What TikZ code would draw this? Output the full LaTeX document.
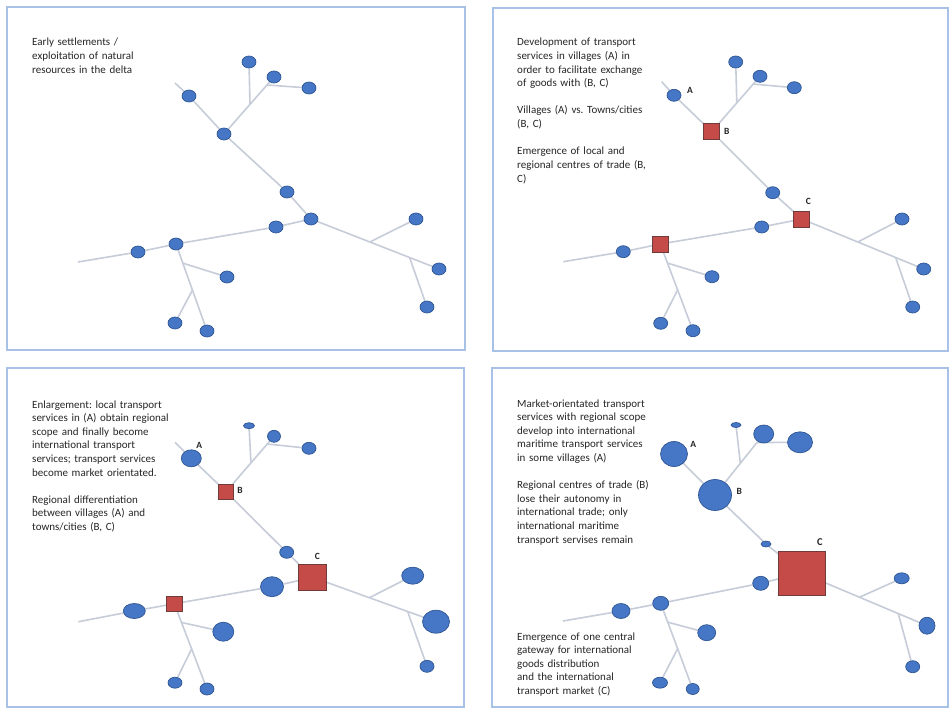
\documentclass[tikz,border=0pt]{standalone}
\usepackage{fontspec}
\setmainfont{Carlito}
\usetikzlibrary{shapes.geometric,calc,backgrounds}
\definecolor{framec}{HTML}{A7C2E6}
\definecolor{roadc}{HTML}{C6CDD9}
\definecolor{dotfill}{HTML}{4677C6}
\definecolor{dotline}{HTML}{2F5592}
\definecolor{sqfill}{HTML}{C44B48}
\definecolor{sqline}{HTML}{6E3A3A}
\definecolor{txtc}{HTML}{262626}
\frenchspacing
\newcommand{\roadnet}[1]{%
  \begin{scope}[on background layer]
  \draw[road] (#1s1) -- (#1nA) -- (#1nB) -- (#1n2);
  \coordinate (#1j1) at ($(#1nB)!0.52!(#1n2)$);
  \coordinate (#1j2) at ($(#1nB)!0.86!(#1n2)$);
  \draw[road] (#1n1) -- (#1j1);
  \draw[road] (#1j2) -- (#1n3);
  \draw[road] (#1nB) -- (#1n4) -- (#1nC);
  \draw[road] (#1nC) -- (#1n5) -- (#1nD) -- (#1n6) -- (#1s2);
  \draw[road] (#1nD) -- (#1n9);
  \coordinate (#1j3) at ($(#1nD)!0.22!(#1n9)$);
  \coordinate (#1j4) at ($(#1nD)!0.53!(#1n9)$);
  \draw[road] (#1j3) -- (#1n7);
  \draw[road] (#1j4) -- (#1n8);
  \draw[road] (#1nC) -- (#1n11);
  \coordinate (#1j5) at ($(#1nC)!0.46!(#1n11)$);
  \coordinate (#1j6) at ($(#1nC)!0.77!(#1n11)$);
  \draw[road] (#1j5) -- (#1n10);
  \draw[road] (#1j6) -- (#1n12);
  \end{scope}}
\begin{document}
\begin{tikzpicture}[x=1pt,y=-1pt,
  dot/.style={ellipse,draw=dotline,fill=dotfill,line width=0.7pt,inner sep=0pt},
  sq/.style={rectangle,draw=sqline,fill=sqfill,line width=0.8pt,inner sep=0pt},
  road/.style={draw=roadc,line width=1.6pt},
  framebox/.style={draw=framec,line width=1.4pt},
  desc/.style={anchor=base west,inner sep=0pt,text width=200pt,align=left,
    font=\fontsize{11}{13.6}\selectfont,text=txtc},
  lab/.style={inner sep=0pt,font=\fontsize{9.5}{10}\selectfont\bfseries,text=txtc}]
\begin{scope}[on background layer]
\fill[white] (0,0) rectangle (950,709);
\end{scope}
\useasboundingbox (0,0) rectangle (950,709);

% ---------------- Panel 1 ----------------
\draw[framebox] (7,7) rectangle (465,350);
\node[desc] (t1) at (32,46) {Early settlements /\\exploitation of natural\\resources in the delta};
\begin{scope}[every node/.append style={dot,minimum width=14pt,minimum height=12pt}]
\node (a-n1) at (249,62) {};
\node (a-n2) at (274,77) {};
\node (a-n3) at (309,88) {};
\node (a-nA) at (189,96) {};
\node (a-nB) at (224,134) {};
\node (a-n4) at (287,192) {};
\node (a-nC) at (311,219) {};
\node (a-n5) at (276,227) {};
\node (a-nD) at (176,244) {};
\node (a-n6) at (138,252) {};
\node (a-n7) at (227,277) {};
\node (a-n8) at (175,323) {};
\node (a-n9) at (207,331) {};
\node (a-n10) at (416,219) {};
\node (a-n11) at (439,269) {};
\node (a-n12) at (427,307) {};
\end{scope}
\coordinate (a-s1) at (175,83);
\coordinate (a-s2) at (78,262);
\roadnet{a-}

% ---------------- Panel 2 ----------------
\begin{scope}[shift={(486,0)}]
\draw[framebox] (7,8) rectangle (462,351);
\node[desc] (t2) at (31,46) {Development of transport\\services in villages (A) in\\order to facilitate exchange\\of goods with (B, C)\\[13.6pt]Villages (A) vs. Towns/cities\\(B, C)\\[13.6pt]Emergence of local and\\regional centres of trade (B,\\C)};
\begin{scope}[every node/.append style={dot,minimum width=14pt,minimum height=12pt}]
\node (b-n1) at (249.7,62) {};
\node (b-n2) at (274,76.3) {};
\node (b-n3) at (308.3,87.7) {};
\node (b-nA) at (188,95.3) {};
\node (b-n4) at (286.7,192.7) {};
\node (b-n5) at (275.7,227) {};
\node (b-n6) at (137.3,251.7) {};
\node (b-n7) at (226,276.7) {};
\node (b-n8) at (174.7,323.3) {};
\node (b-n9) at (207,330.7) {};
\node (b-n10) at (416,219) {};
\node (b-n11) at (437.7,269) {};
\node (b-n12) at (426.7,307) {};
\end{scope}
\begin{scope}[every node/.append style={sq,minimum width=16pt,minimum height=16pt}]
\node (b-nB) at (225.7,131.7) {};
\node (b-nC) at (315.7,219) {};
\node (b-nD) at (174.3,244) {};
\end{scope}
\coordinate (b-s1) at (175.7,81.7);
\coordinate (b-s2) at (77.3,261.7);
\roadnet{b-}
\node[lab] (b-lA) at (204,90) {A};
\node[lab] (b-lB) at (240.7,131) {B};
\node[lab] (b-lC) at (322.3,201.7) {C};
\end{scope}

% ---------------- Panel 3 ----------------
\begin{scope}[shift={(0,359)}]
\draw[framebox] (7,9) rectangle (464,348);
\node[desc] (t3) at (32,49) {Enlargement: local transport\\services in (A) obtain regional\\scope and finally become\\international transport\\services; transport services\\become market orientated.\\[13.6pt]Regional differentiation\\between villages (A) and\\towns/cities (B, C)};
\begin{scope}[every node/.append style={dot}]
\node[minimum width=11pt,minimum height=6pt] (c-n1) at (249,66.7) {};
\node[minimum width=13pt,minimum height=12pt] (c-n2) at (274,77.3) {};
\node[minimum width=14pt,minimum height=12pt] (c-n3) at (309,89.3) {};
\node[minimum width=20pt,minimum height=17pt] (c-nA) at (191.3,99.3) {};
\node[minimum width=14pt,minimum height=12pt] (c-n4) at (286.7,193.3) {};
\node[minimum width=23pt,minimum height=20pt] (c-n5) at (272,227.7) {};
\node[minimum width=22pt,minimum height=15pt] (c-n6) at (134.3,252) {};
\node[minimum width=21pt,minimum height=19pt] (c-n7) at (223.3,272.7) {};
\node[minimum width=14pt,minimum height=11pt] (c-n8) at (175,323.7) {};
\node[minimum width=14pt,minimum height=12pt] (c-n9) at (207,330) {};
\node[minimum width=22pt,minimum height=17pt] (c-n10) at (412.7,216.7) {};
\node[minimum width=27pt,minimum height=23pt] (c-n11) at (436,262.7) {};
\node[minimum width=14pt,minimum height=12pt] (c-n12) at (427,307.3) {};
\end{scope}
\begin{scope}[every node/.append style={sq}]
\node[minimum width=15pt,minimum height=15pt] (c-nB) at (226,132.7) {};
\node[minimum width=28pt,minimum height=26pt] (c-nC) at (312.7,218.3) {};
\node[minimum width=16pt,minimum height=15pt] (c-nD) at (174.3,244.7) {};
\end{scope}
\coordinate (c-s1) at (175,83.3);
\coordinate (c-s2) at (78.3,262.7);
\roadnet{c-}
\node[lab] (c-lA) at (199.3,86) {A};
\node[lab] (c-lB) at (240,131) {B};
\node[lab] (c-lC) at (317.3,197) {C};
\end{scope}

% ---------------- Panel 4 ----------------
\begin{scope}[shift={(486,359)}]
\draw[framebox] (6,9) rectangle (462,348);
\node[desc] (t4a) at (31,48) {Market-orientated transport\\services with regional scope\\develop into international\\maritime transport services\\in some villages (A)\\[13.6pt]Regional centres of trade (B)\\lose their autonomy in\\international trade; only\\international maritime\\transport servises remain};
\node[desc] (t4b) at (31,281) {Emergence of one central\\gateway for international\\goods distribution\\and the international\\transport market (C)};
\begin{scope}[every node/.append style={dot}]
\node[minimum width=10pt,minimum height=5pt] (d-n1) at (250,66) {};
\node[minimum width=20pt,minimum height=18pt] (d-n2) at (277.7,75) {};
\node[minimum width=25pt,minimum height=21pt] (d-n3) at (314,83.3) {};
\node[minimum width=27pt,minimum height=25pt] (d-nA) at (188,95) {};
\node[minimum width=33pt,minimum height=31pt] (d-nB) at (229,136) {};
\node[minimum width=10pt,minimum height=6pt] (d-n4) at (280,185) {};
\node[minimum width=16pt,minimum height=14pt] (d-n5) at (274.7,224.3) {};
\node[minimum width=16pt,minimum height=14pt] (d-nD) at (174.7,244.3) {};
\node[minimum width=18pt,minimum height=15pt] (d-n6) at (135,252) {};
\node[minimum width=18pt,minimum height=16pt] (d-n7) at (220.7,273.7) {};
\node[minimum width=15pt,minimum height=11pt] (d-n8) at (174,323.7) {};
\node[minimum width=13pt,minimum height=11pt] (d-n9) at (206.7,330) {};
\node[minimum width=15pt,minimum height=11pt] (d-n10) at (415.7,219.3) {};
\node[minimum width=16pt,minimum height=17pt] (d-n11) at (441,266.7) {};
\node[minimum width=14pt,minimum height=12pt] (d-n12) at (426.7,307.7) {};
\end{scope}
\node[sq,minimum width=47pt,minimum height=44pt] (d-nC) at (316,214) {};
\coordinate (d-s1) at (182,89);
\coordinate (d-s2) at (77,262);
\roadnet{d-}
\node[lab] (d-lA) at (207.3,85.3) {A};
\node[lab] (d-lB) at (253.3,132) {B};
\node[lab,font=\fontsize{10.5}{11}\selectfont\bfseries] (d-lC) at (334,183.3) {C};
\end{scope}
\end{tikzpicture}
\end{document}
